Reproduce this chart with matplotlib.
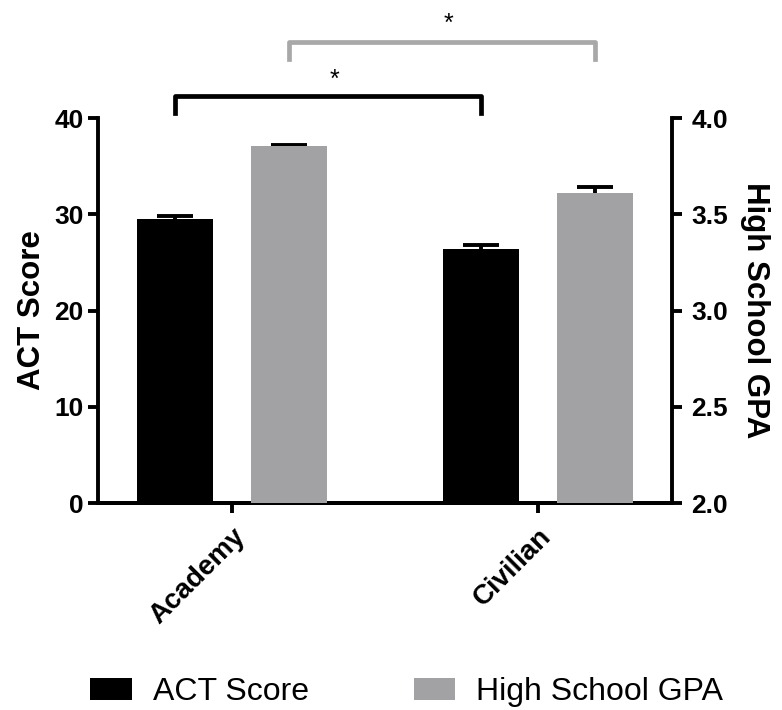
import numpy as np
import matplotlib
matplotlib.use("Agg")
import matplotlib.pyplot as plt
from matplotlib.patches import Patch

plt.rcParams['font.family'] = ['Liberation Sans', 'DejaVu Sans']

groups = ["Academy", "Civilian"]
act_mean = [29.5, 26.4]
act_err = [0.35, 0.45]
gpa_mean = [3.855, 3.61]
gpa_err = [0.006, 0.03]
series_names = ["ACT Score", "High School GPA"]
act_ticks = [0, 10, 20, 30, 40]
gpa_ticks = [2.0, 2.5, 3.0, 3.5, 4.0]

BLACK = "#000000"
GRAY = "#a2a2a5"
BRACKET_GRAY = "#a8a8a8"
LW = 2.8

fig = plt.figure(figsize=(7.82, 7.10), dpi=100)
ax = fig.add_axes([0.1253, 0.2915, 0.734, 0.5423])
ax2 = ax.twinx()

x = np.arange(len(groups))
off = 0.186
w = 0.248

# error bars sit behind the bars so only the upper whisker shows
ax.bar(x - off, act_mean, width=w, color=BLACK, zorder=3)
ax.errorbar(x - off, act_mean, yerr=act_err,
            fmt="none", ecolor=BLACK, elinewidth=LW, capsize=13, capthick=LW, zorder=2)

ax2.bar(x + off, gpa_mean, width=w, color=GRAY, zorder=3)
ax2.errorbar(x + off, gpa_mean, yerr=gpa_err,
             fmt="none", ecolor=BLACK, elinewidth=LW, capsize=13, capthick=LW, zorder=2)

ax.set_xlim(-0.438, 1.438)
ax.set_ylim(0, 40)
ax2.set_ylim(2.0, 4.0)
ax.set_yticks(act_ticks)
ax.set_yticklabels([str(t) for t in act_ticks])
ax2.set_yticks(gpa_ticks)
ax2.set_yticklabels([f"{t:.1f}" for t in gpa_ticks])
ax.set_xticks(x)
ax.set_xticklabels(groups, rotation=45, ha="right", rotation_mode="anchor",
                   fontsize=20, fontweight="bold")

for a in (ax, ax2):
    a.spines["top"].set_visible(False)
    for s in a.spines.values():
        s.set_linewidth(LW)
    a.tick_params(width=LW, length=7, labelsize=19, direction="out")
ax.spines["right"].set_visible(False)
ax2.spines["left"].set_visible(False)
ax2.tick_params(axis="y", pad=7)
for lab in ax.get_yticklabels() + ax2.get_yticklabels():
    lab.set_fontweight("bold")
ax.tick_params(axis="x", pad=8, labelsize=20)

ax.set_ylabel("ACT Score", fontsize=22.5, fontweight="bold", labelpad=5)
ax2.set_ylabel("High School GPA", fontsize=22.5, fontweight="bold", rotation=270, labelpad=30)

# significance brackets
def bracket(x0, x1, y, h, color, ytext):
    ax.plot([x0, x0, x1, x1], [y - h, y, y, y - h], color=color, lw=3.4,
            clip_on=False, solid_joinstyle="round", zorder=5)
    ax.text((x0 + x1) / 2 + 0.02, ytext, "*", ha="center", va="center", fontsize=18,
            color=BLACK, clip_on=False)

bracket(x[0] - off, x[1] - off, 42.3, 1.8, BLACK, 44.0)
bracket(x[0] + off, x[1] + off, 47.9, 1.8, BRACKET_GRAY, 49.8)

handles = [Patch(facecolor=BLACK, edgecolor="none"), Patch(facecolor=GRAY, edgecolor="none")]
fig.legend(handles, series_names, loc="center", bbox_to_anchor=(0.52, 0.025), ncol=2,
           frameon=False, fontsize=23, handlelength=1.3, handleheight=0.66,
           columnspacing=3.28, handletextpad=0.65)

fig.savefig("out.png", dpi=100)
